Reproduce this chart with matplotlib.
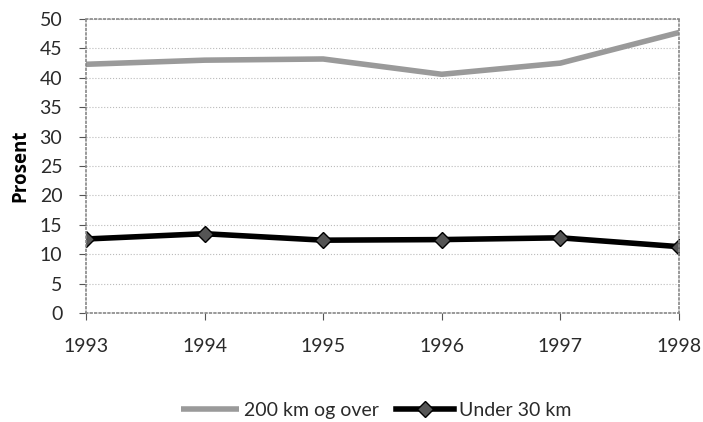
import matplotlib
matplotlib.use("Agg")
from matplotlib import pyplot as plt

years = [1993, 1994, 1995, 1996, 1997, 1998]
over_200 = [42.3, 43.0, 43.2, 40.6, 42.5, 47.7]
under_30 = [12.6, 13.5, 12.4, 12.5, 12.8, 11.3]
yticks = list(range(0, 55, 5))

plt.rcParams["font.family"] = ["Lato", "DejaVu Sans"]

fig = plt.figure(figsize=(7.03, 4.22), dpi=100)
ax = fig.add_axes([0.1223, 0.258, 0.8435, 0.697])

ax.plot(years, over_200, color="#9a9a9a", lw=4, label="200 km og over", solid_capstyle="butt")
ax.plot(years, under_30, color="black", lw=4, marker="D", ms=8,
        mfc="#555555", mec="black", mew=1, label="Under 30 km")

ax.set_xlim(1993, 1998)
ax.set_ylim(0, 50)
ax.set_yticks(yticks)
ax.set_xticks(years)
ax.grid(axis="y", color="#bbbbbb", ls=":", lw=0.8)
for s in ax.spines.values():
    s.set_color("#888888")
    s.set_linestyle(":")
    s.set_linewidth(1.2)
ax.tick_params(labelsize=14, labelcolor="#2a2a2a", color="#555555", length=5, width=0.8)
ax.tick_params(axis="x", pad=13, direction="out")
ax.tick_params(axis="y", pad=12)
ax.set_ylabel("Prosent", fontsize=13.5, fontweight="bold", labelpad=7,
              family=["Open Sans", "DejaVu Sans"])

leg = fig.legend(loc="center", bbox_to_anchor=(0.535, 0.028), ncol=2, frameon=False,
                 fontsize=14, handlelength=3.0, handletextpad=0.25, columnspacing=0.9,
                 borderpad=0, labelcolor="#2a2a2a")

fig.savefig("out.png", dpi=100)
